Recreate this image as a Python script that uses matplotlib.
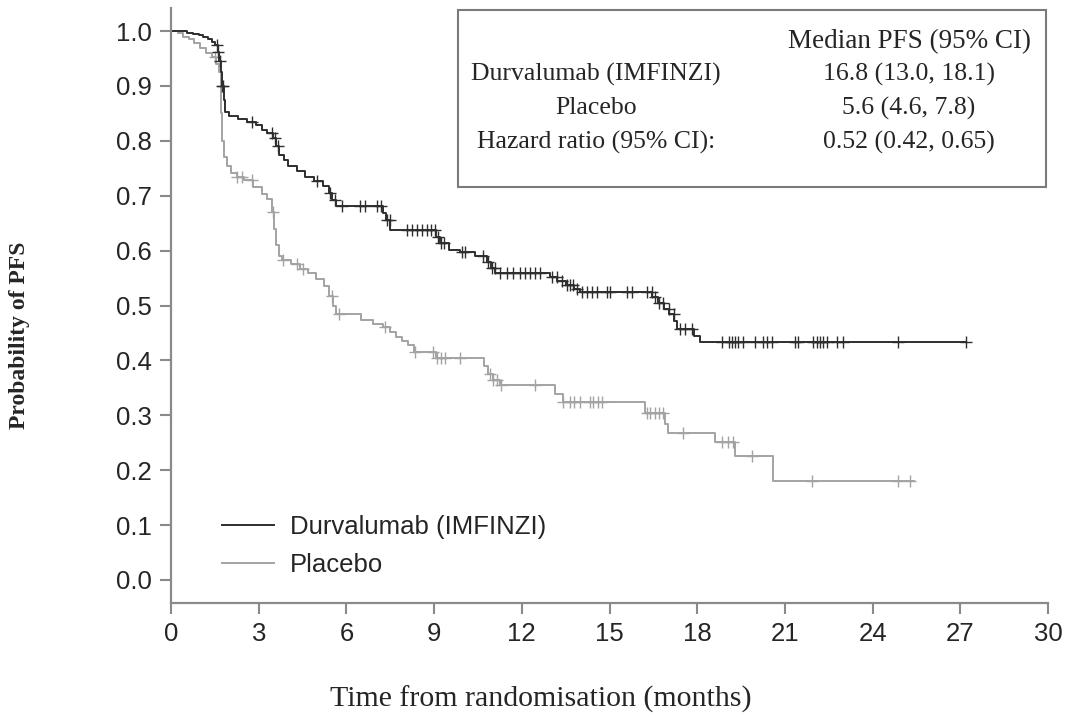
import numpy as np
import matplotlib
matplotlib.use("Agg")
import matplotlib.pyplot as plt
from matplotlib.lines import Line2D
from matplotlib.patches import Rectangle

# ---------------- data ----------------
durva_t = [0, 0.55, 0.75, 0.95, 1.1, 1.25, 1.4, 1.5, 1.6, 1.65, 1.7, 1.75, 1.8, 1.85,
           2.0, 2.3, 2.6, 2.9, 3.1, 3.3, 3.5, 3.6, 3.7, 3.85, 4.0, 4.3, 4.6, 4.9, 5.2,
           5.4, 5.5, 5.65, 7.25, 7.35, 7.5, 9.05, 9.2, 9.5, 9.9, 10.4, 10.8, 10.95,
           11.1, 12.95, 13.2, 13.5, 13.8, 14.0, 16.45, 16.65, 16.85, 17.05, 17.2,
           17.3, 17.9, 18.1, 27.2]
durva_s = [1.0, 0.997, 0.995, 0.993, 0.99, 0.985, 0.98, 0.975, 0.962, 0.945, 0.925,
           0.9, 0.875, 0.852, 0.845, 0.84, 0.834, 0.828, 0.82, 0.814, 0.806, 0.79,
           0.775, 0.765, 0.755, 0.745, 0.735, 0.727, 0.718, 0.705, 0.692, 0.681,
           0.668, 0.655, 0.638, 0.625, 0.613, 0.602, 0.597, 0.59, 0.58, 0.568, 0.56,
           0.552, 0.545, 0.538, 0.53, 0.525, 0.515, 0.505, 0.494, 0.484, 0.472,
           0.458, 0.445, 0.433, 0.433]
durva_cens = [1.56, 1.62, 1.68, 1.76, 1.79, 2.76, 3.44, 3.56, 3.67, 4.98, 5.44, 5.61,
              5.84, 6.47, 6.64, 7.04, 7.2, 7.38, 7.49, 8.06, 8.23, 8.4, 8.58, 8.75,
              8.91, 9.03, 9.15, 9.25, 9.35, 9.94, 10.06, 10.68, 10.86, 10.97, 11.08,
              11.26, 11.48, 11.71, 11.94, 12.11, 12.28, 12.45, 12.62, 13.02, 13.19,
              13.36, 13.54, 13.65, 13.76, 13.88, 14.05, 14.22, 14.39, 14.56, 14.9,
              15.02, 15.59, 15.76, 16.27, 16.44, 16.56, 16.7, 16.84, 17.02, 17.19,
              17.41, 17.58, 17.81, 18.84, 19.1, 19.2, 19.3, 19.4, 19.57, 19.98, 20.25,
              20.39, 20.56, 21.35, 21.45, 21.96, 22.1, 22.2, 22.3, 22.44, 22.78, 22.99,
              24.87, 27.19]

placebo_t = [0, 0.25, 0.4, 0.6, 0.8, 1.0, 1.2, 1.4, 1.55, 1.65, 1.7, 1.75, 1.8, 1.9,
             2.05, 2.25, 2.5, 2.8, 3.1, 3.3, 3.45, 3.52, 3.6, 3.7, 3.8, 4.1, 4.4, 4.7,
             4.95, 5.25, 5.4, 5.55, 5.65, 6.5, 6.9, 7.25, 7.5, 7.7, 7.9, 8.1, 8.3,
             9.05, 10.7, 10.85, 11.0, 11.25, 13.15, 13.4, 16.2, 16.9, 17.0, 18.6,
             19.3, 20.6, 25.4]
placebo_s = [1.0, 0.997, 0.99, 0.985, 0.978, 0.97, 0.96, 0.952, 0.94, 0.925, 0.85,
             0.80, 0.77, 0.755, 0.742, 0.735, 0.728, 0.716, 0.704, 0.694, 0.67, 0.64,
             0.61, 0.59, 0.582, 0.575, 0.567, 0.56, 0.548, 0.535, 0.518, 0.5, 0.484,
             0.474, 0.467, 0.46, 0.452, 0.443, 0.436, 0.428, 0.416, 0.405, 0.389,
             0.376, 0.364, 0.355, 0.338, 0.325, 0.305, 0.285, 0.268, 0.252, 0.225,
             0.18, 0.18]
placebo_cens = [1.5, 2.25, 2.42, 2.76, 3.5, 3.84, 4.3, 4.53, 5.5, 5.73, 7.32, 8.35,
                8.96, 9.1, 9.25, 9.37, 9.89, 10.9, 11.0, 11.15, 11.3, 12.45, 13.42,
                13.65, 13.8, 13.99, 14.33, 14.45, 14.6, 14.75, 16.27, 16.4, 16.55,
                16.7, 16.84, 17.53, 18.84, 19.06, 19.23, 19.87, 21.91, 24.88, 25.28]

series_names = ["Durvalumab (IMFINZI)", "Placebo"]
x_ticks = [0, 3, 6, 9, 12, 15, 18, 21, 24, 27, 30]
y_ticks = [0.0, 0.1, 0.2, 0.3, 0.4, 0.5, 0.6, 0.7, 0.8, 0.9, 1.0]

box_header = "Median PFS (95% CI)"
box_rows = ["Durvalumab (IMFINZI)", "Placebo", "Hazard ratio (95% CI):"]
box_vals = ["16.8 (13.0, 18.1)", "5.6 (4.6, 7.8)", "0.52 (0.42, 0.65)"]

# ---------------- styling ----------------
DARK = "#2e2e2e"
LIGHT = "#a3a3a3"
AXC = "#8a8a8a"
TXT = "#252525"
SANS = "Liberation Sans"
SERIF = "Liberation Serif"

fig = plt.figure(figsize=(10.73, 7.17), dpi=100)
ax = fig.add_axes([171 / 1073, 1 - 603 / 717, 877 / 1073, 595 / 717])


def censor_y(t, s, c):
    t = np.asarray(t)
    s = np.asarray(s)
    idx = np.searchsorted(t, c, side="right") - 1
    return s[idx]


ax.plot(placebo_t, placebo_s, drawstyle="steps-post", color=LIGHT, lw=1.4)
ax.plot(placebo_cens, censor_y(placebo_t, placebo_s, placebo_cens), ls="none",
        marker="+", ms=9, mew=1.0, color=LIGHT)
ax.plot(durva_t, durva_s, drawstyle="steps-post", color=DARK, lw=1.4)
ax.plot(durva_cens, censor_y(durva_t, durva_s, durva_cens), ls="none",
        marker="+", ms=9, mew=1.0, color=DARK)

ax.set_xlim(0, 30)
ax.set_ylim(-0.042, 1.042)
ax.set_xticks(x_ticks)
ax.set_xticklabels([str(v) for v in x_ticks], fontsize=18.5, family=SANS, color=TXT)
ax.set_yticks(y_ticks)
ax.set_yticklabels([f"{v:.1f}" for v in y_ticks], fontsize=18.5, family=SANS, color=TXT)
for side in ("top", "right"):
    ax.spines[side].set_visible(False)
for side in ("left", "bottom"):
    ax.spines[side].set_color(AXC)
    ax.spines[side].set_linewidth(1.6)
ax.tick_params(direction="out", length=8, width=1.5, color=AXC, pad=6)

ax.set_xlabel("Time from randomisation (months)", fontsize=21.5, family=SERIF, color=TXT)
ax.xaxis.set_label_coords((541 - 171) / 877, -(686 - 603) / 595)
ax.set_ylabel("Probability of PFS", fontsize=17, family=SERIF, fontweight="bold", color=TXT)
ax.yaxis.set_label_coords((30 - 171) / 877, (603 - 335) / 595)

handles = [Line2D([], [], color=DARK, lw=1.4), Line2D([], [], color=LIGHT, lw=1.4)]
ax.legend(handles, series_names, loc="lower left", bbox_to_anchor=(0.032, 0.005),
          frameon=False, handlelength=2.0, handletextpad=0.65, labelspacing=0.55,
          prop={"family": SANS, "size": 18.5}, labelcolor=TXT)

# info box (figure pixel coords)
def fx(px):
    return px / 1073


def fy(py):
    return 1 - py / 717


fig.patches.append(Rectangle((fx(458), fy(187)), fx(1046) - fx(458), fy(10) - fy(187),
                             transform=fig.transFigure, fill=False, ec="#7a7a7a", lw=1.5))
fig.text(fx(909), fy(42), box_header, ha="center", va="center", fontsize=19.5,
         family=SERIF, color=TXT)
row_y = [74, 108, 142]
for r, v, yy in zip(box_rows, box_vals, row_y):
    fig.text(fx(596), fy(yy), r, ha="center", va="center", fontsize=18.5,
             family=SERIF, color=TXT)
    fig.text(fx(909), fy(yy), v, ha="center", va="center", fontsize=18.5,
             family=SERIF, color=TXT)

fig.savefig("out.png", dpi=100)
